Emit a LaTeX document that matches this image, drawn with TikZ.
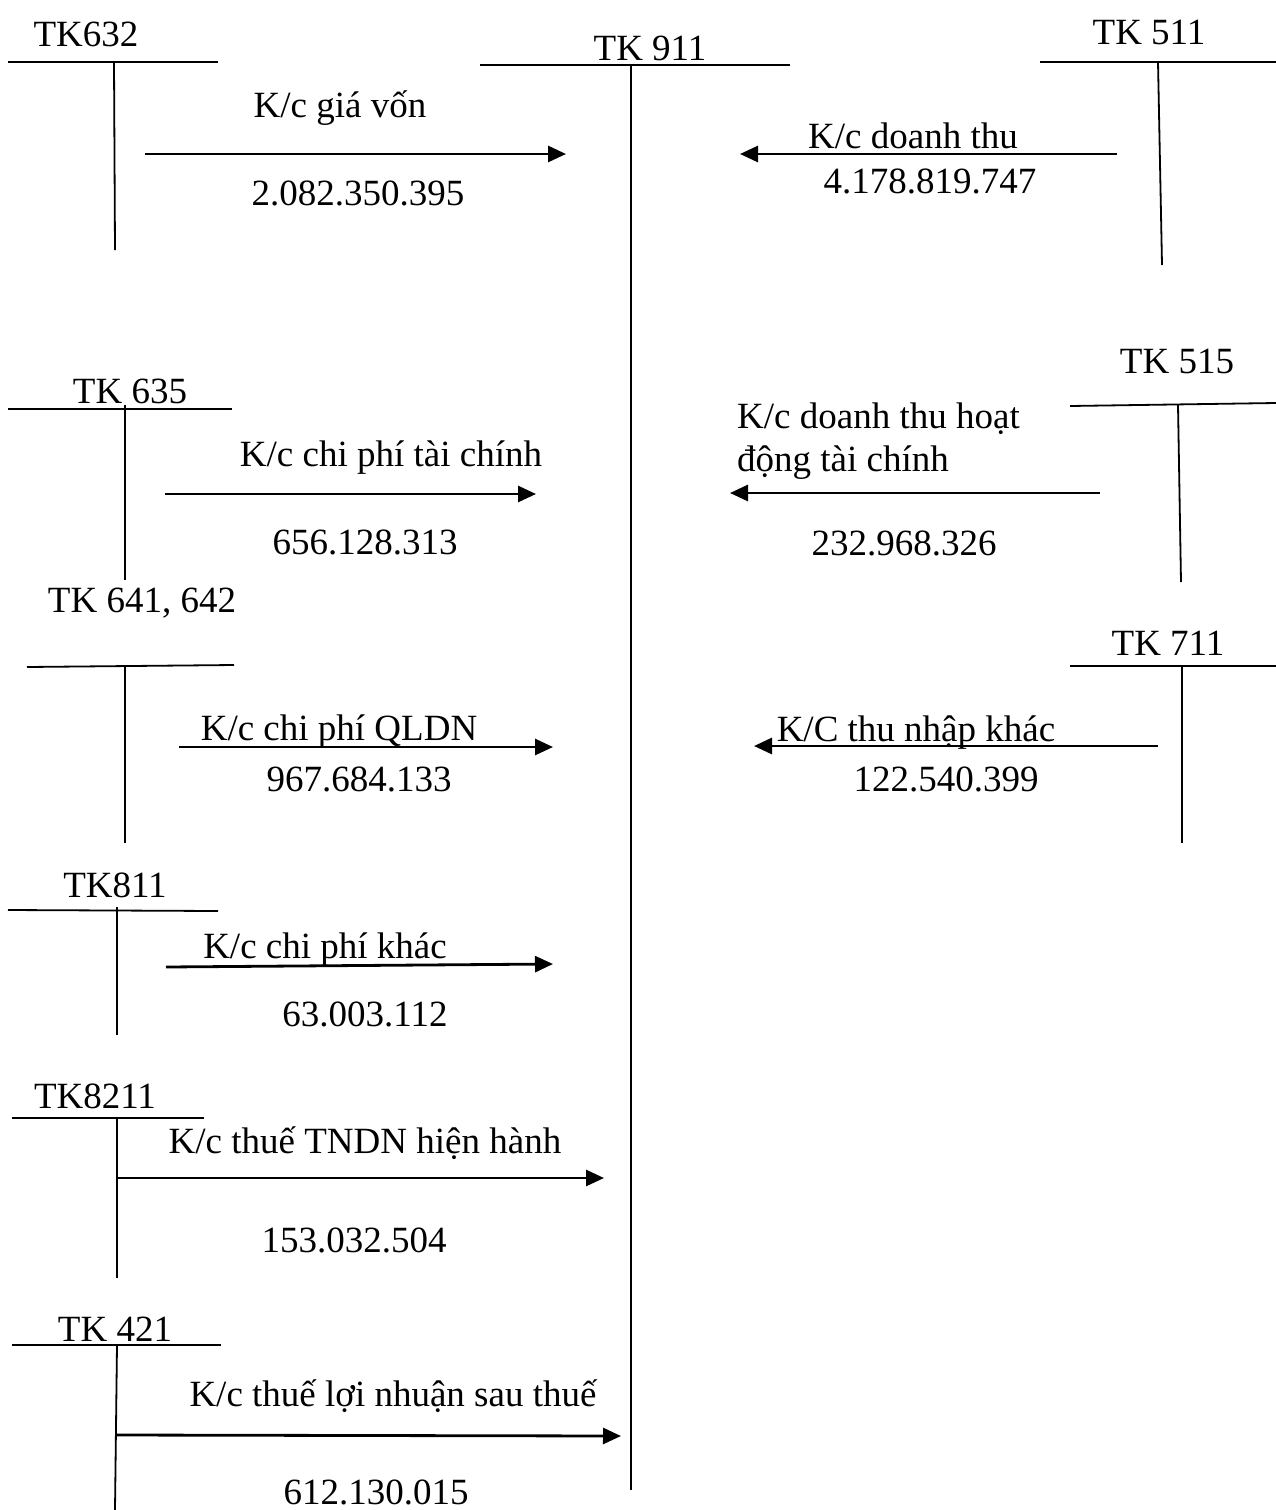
\documentclass[tikz,border=0pt]{standalone}
\usepackage{fontspec}
\setmainfont{Liberation Serif}
\usetikzlibrary{arrows.meta}
\begin{document}
\begin{tikzpicture}[x=1pt,y=-1pt,
  lbl/.style={anchor=base,inner sep=0pt,font=\fontsize{37}{44}\selectfont},
  lblw/.style={anchor=base west,inner sep=0pt,font=\fontsize{37}{44}\selectfont},
  tline/.style={line width=1.8pt},
  flow/.style={line width=2.8pt,-{Triangle[length=18pt,width=16pt]}}]
\useasboundingbox[fill=white] (0,0) rectangle (1276,1510);

% ---------- TK 911 (centre) ----------
\node[lbl] (t911) at (650,60) {TK 911};
\coordinate (h911a) at (480,65); \coordinate (h911b) at (790,65);
\coordinate (v911a) at (631,65); \coordinate (v911b) at (631,1490);
\draw[tline] (h911a) -- (h911b);
\draw[tline] (v911a) -- (v911b);

% ---------- TK632 ----------
\node[lbl] (t632) at (86,46) {TK632};
\coordinate (h632a) at (8,62); \coordinate (h632b) at (218,62);
\coordinate (v632a) at (114,62); \coordinate (v632b) at (115,250);
\draw[tline] (h632a) -- (h632b);
\draw[tline] (v632a) -- (v632b);
\coordinate (a1s) at (145,154); \coordinate (a1e) at (566,154);
\draw[flow] (a1s) -- (a1e);
\node[lbl] (l1) at (340,117) {K/c giá vốn};
\node[lbl] (n1) at (358,205) {2.082.350.395};

% ---------- TK 511 ----------
\node[lbl] (t511) at (1149,44) {TK 511};
\coordinate (h511a) at (1040,62); \coordinate (h511b) at (1276,62);
\coordinate (v511a) at (1158,62); \coordinate (v511b) at (1162,265);
\draw[tline] (h511a) -- (h511b);
\draw[tline] (v511a) -- (v511b);
\coordinate (a2s) at (1117,154); \coordinate (a2e) at (740,154);
\draw[flow] (a2s) -- (a2e);
\node[lbl] (l2) at (913,148) {K/c doanh thu};
\node[lbl] (n2) at (930,193) {4.178.819.747};

% ---------- TK 635 ----------
\node[lbl] (t635) at (130,403) {TK 635};
\coordinate (h635a) at (8,409); \coordinate (h635b) at (232,409);
\coordinate (v635a) at (125,405); \coordinate (v635b) at (125,580);
\draw[tline] (h635a) -- (h635b);
\draw[tline] (v635a) -- (v635b);
\coordinate (a3s) at (165,494); \coordinate (a3e) at (536,494);
\draw[flow] (a3s) -- (a3e);
\node[lbl] (l3) at (391,466) {K/c chi phí tài chính};
\node[lbl] (n3) at (365,554) {656.128.313};

% ---------- TK 515 ----------
\node[lbl] (t515) at (1177,373) {TK 515};
\coordinate (h515a) at (1070,406); \coordinate (h515b) at (1276,403);
\coordinate (v515a) at (1178,405); \coordinate (v515b) at (1181,582);
\draw[tline] (h515a) -- (h515b);
\draw[tline] (v515a) -- (v515b);
\coordinate (a4s) at (1100,493); \coordinate (a4e) at (730,493);
\draw[flow] (a4s) -- (a4e);
\node[lblw] (l4a) at (737,428) {K/c doanh thu hoạt};
\node[lblw] (l4b) at (737,471) {động tài chính};
\node[lbl] (n4) at (904,555) {232.968.326};

% ---------- TK 641, 642 ----------
\node[lbl] (t641) at (142,612) {TK 641, 642};
\coordinate (h641a) at (27,667); \coordinate (h641b) at (234,665);
\coordinate (v641a) at (125,666); \coordinate (v641b) at (125,843);
\draw[tline] (h641a) -- (h641b);
\draw[tline] (v641a) -- (v641b);
\coordinate (a5s) at (179,747); \coordinate (a5e) at (553,747);
\draw[flow] (a5s) -- (a5e);
\node[lbl] (l5) at (339,740) {K/c chi phí QLDN};
\node[lbl] (n5) at (359,791) {967.684.133};

% ---------- TK 711 ----------
\node[lbl] (t711) at (1168,655) {TK 711};
\coordinate (h711a) at (1070,666); \coordinate (h711b) at (1276,666);
\coordinate (v711a) at (1182,666); \coordinate (v711b) at (1182,843);
\draw[tline] (h711a) -- (h711b);
\draw[tline] (v711a) -- (v711b);
\coordinate (a6s) at (1158,746); \coordinate (a6e) at (754,746);
\draw[flow] (a6s) -- (a6e);
\node[lbl] (l6) at (916,741) {K/C thu nhập khác};
\node[lbl] (n6) at (946,791) {122.540.399};

% ---------- TK811 ----------
\node[lbl] (t811) at (115,897) {TK811};
\coordinate (h811a) at (8,910); \coordinate (h811b) at (218,911);
\coordinate (v811a) at (117,907); \coordinate (v811b) at (117,1035);
\draw[tline] (h811a) -- (h811b);
\draw[tline] (v811a) -- (v811b);
\coordinate (a7s) at (166,967); \coordinate (a7e) at (553,964);
\draw[flow] (a7s) -- (a7e);
\node[lbl] (l7) at (325,958) {K/c chi phí khác};
\node[lbl] (n7) at (365,1026) {63.003.112};

% ---------- TK8211 ----------
\node[lbl] (t8211) at (95,1108) {TK8211};
\coordinate (h8211a) at (12,1118); \coordinate (h8211b) at (204,1118);
\coordinate (v8211a) at (117,1118); \coordinate (v8211b) at (117,1278);
\draw[tline] (h8211a) -- (h8211b);
\draw[tline] (v8211a) -- (v8211b);
\coordinate (a8s) at (117,1178); \coordinate (a8e) at (604,1178);
\draw[flow] (a8s) -- (a8e);
\node[lbl] (l8) at (365,1153) {K/c thuế TNDN hiện hành};
\node[lbl] (n8) at (354,1252) {153.032.504};

% ---------- TK 421 ----------
\node[lbl] (t421) at (115,1341) {TK 421};
\coordinate (h421a) at (12,1345); \coordinate (h421b) at (221,1345);
\coordinate (v421a) at (117,1345); \coordinate (v421b) at (115,1510);
\draw[tline] (h421a) -- (h421b);
\draw[tline] (v421a) -- (v421b);
\coordinate (a9s) at (117,1435); \coordinate (a9e) at (621,1436);
\draw[flow] (a9s) -- (a9e);
\node[lbl] (l9) at (393,1406) {K/c thuế lợi nhuận sau thuế};
\node[lbl] (n9) at (376,1504) {612.130.015};
\end{tikzpicture}
\end{document}
